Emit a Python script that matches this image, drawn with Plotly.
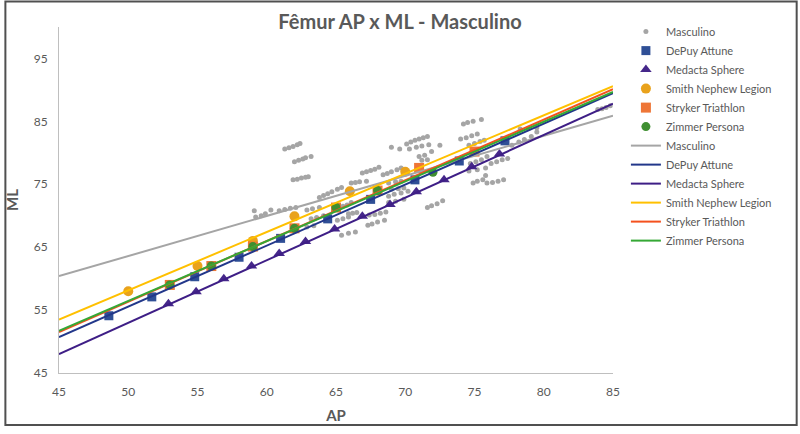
import plotly.graph_objects as go

# ---------------- data ----------------
ap_ticks = [45, 50, 55, 60, 65, 70, 75, 80, 85]
ml_ticks = [45, 55, 65, 75, 85, 95]

# Masculino (measured patients) - AP vs ML
masc_ap = [
    59.1, 60.3,
    59.2, 59.6, 59.9,
    60.9, 61.3, 61.7, 62.1,
    61.3, 61.6, 61.9, 62.2, 62.4,
    62.0, 62.3, 62.6, 62.8, 63.2,
    61.9, 62.2, 62.5, 62.8, 63.0,
    63.8, 64.1, 64.4, 64.7, 65.1, 65.4,
    63.2, 63.6, 64.1,
    62.9, 63.4,
    62.9, 63.3, 63.8,
    65.2, 65.5, 65.8, 66.1,
    65.9, 66.2, 66.5,
    66.1, 66.4, 66.7, 67.2,
    65.4, 65.9, 66.4,
    65.1, 65.5, 65.9,
    67.3, 67.6, 68.0, 68.5,
    67.4, 67.8, 68.2, 68.6,
    66.9, 67.2, 67.5, 67.8, 68.1,
    68.4, 68.7, 69.0, 69.4, 69.7,
    68.8, 69.3, 69.7,
    69.0, 69.5, 69.9,
    69.0, 69.6,
    70.1, 70.4, 70.7, 71.0, 71.3, 71.6, 70.3, 70.8, 71.2, 71.7,
    71.0, 71.4, 71.9,
    71.2, 71.6,
    72.5,
    68.8, 69.2, 69.7, 70.2,
    68.8, 69.3, 69.9,
    71.6, 71.9, 72.3, 72.7,
    74.2, 74.5, 74.9, 75.5,
    74.0, 74.4, 74.8, 75.2,
    74.6, 75.0, 75.4, 75.7,
    74.7, 75.1, 75.5, 75.9,
    74.6, 75.2, 75.8,
    74.9, 75.2, 75.6,
    75.8,
    75.9, 76.3, 76.7, 77.1,
    76.2, 76.6, 77.0, 77.4,
    77.7, 78.2, 78.6, 79.1, 79.5,
    78.3, 78.9, 79.5,
    83.9, 84.2, 84.5, 84.8,
]
masc_ml = [
    70.8, 70.9,
    69.8, 70.0, 70.3,
    70.8, 71.0, 71.2, 71.3,
    80.6, 80.8, 81.0, 81.3, 81.5,
    78.6, 78.8, 79.0, 79.2, 79.4,
    75.7, 75.8, 76.0, 76.1, 76.2,
    72.9, 73.2, 73.5, 73.8, 74.2, 74.5,
    69.5, 69.7, 70.0,
    68.2, 68.4,
    70.9, 71.1, 71.3,
    71.3, 71.5, 71.7, 72.1,
    70.3, 70.4, 70.5,
    75.2, 75.3, 75.4, 75.5,
    66.9, 67.2, 67.4,
    69.3, 69.5, 69.8,
    68.5, 68.7, 69.0, 69.3,
    70.1, 70.2, 70.4, 70.6,
    76.8, 77.0, 77.2, 77.4, 77.7,
    76.5, 76.7, 77.0, 77.3, 77.6,
    75.2, 75.4, 75.5,
    74.2, 74.3, 74.4,
    80.9, 80.6,
    81.4, 81.7, 82.0, 82.2, 82.4, 82.6, 80.6, 80.9, 81.1, 81.3,
    79.4, 79.6, 80.2,
    78.8, 78.9,
    81.2,
    73.1, 73.4, 73.6, 73.9,
    72.1, 72.3, 72.6,
    71.3, 71.6, 71.9, 72.4,
    84.6, 84.8, 85.0, 85.3,
    82.2, 82.4, 82.7, 83.0,
    81.2, 81.5, 81.8, 82.0,
    78.3, 78.6, 78.9, 79.4,
    77.1, 77.3, 77.6,
    75.2, 75.5, 75.7,
    76.4,
    75.2, 75.3, 75.5, 75.7,
    78.3, 78.6, 78.9, 79.1,
    81.2, 81.7, 82.1, 82.6, 83.3,
    83.8, 83.9, 84.0,
    86.9, 87.0, 87.2, 87.5,
]

# Prosthesis sizes
depuy_ap = [48.6, 51.7, 54.8, 58.0, 61.0, 64.4, 67.5, 70.7, 73.9, 77.2]
depuy_ml = [54.1, 57.1, 60.3, 63.4, 66.4, 69.5, 72.6, 75.7, 78.7, 81.9]

medacta_ap = [52.9, 54.9, 56.9, 58.9, 60.9, 62.8, 64.9, 66.9, 68.9, 70.8, 72.8, 74.8, 76.8]
medacta_ml = [56.0, 57.9, 60.0, 62.0, 64.0, 65.9, 67.9, 69.9, 71.8, 73.8, 75.7, 77.8, 79.8]

smith_ap = [50.0, 55.0, 59.0, 62.0, 66.0, 70.0]
smith_ml = [58.0, 62.0, 66.0, 69.9, 73.9, 77.0]

stryker_ap = [53.0, 56.0, 59.0, 62.0, 65.0, 68.0, 71.0, 75.0]
stryker_ml = [59.0, 62.0, 65.1, 68.0, 71.3, 74.0, 77.6, 80.2]

zimmer_ap = [53.0, 56.0, 59.0, 62.0, 65.0, 68.0, 72.0]
zimmer_ml = [59.0, 62.0, 65.1, 68.0, 71.3, 74.0, 76.9]

# Linear trend lines (ML at AP = 45 and AP = 85)
trend_ap = [45, 85]
trend_masc = [60.4, 85.9]
trend_depuy = [50.7, 89.5]
trend_medacta = [48.0, 87.8]
trend_smith = [53.5, 90.6]
trend_stryker = [51.5, 90.1]
trend_zimmer = [51.7, 89.7]

# ---------------- figure ----------------
FONT = "Lato"
TXT = "#595959"

fig = go.Figure()

marker_series = [
    ("Masculino", masc_ap, masc_ml, "circle", 5, "#A5A5A5"),
    ("DePuy Attune", depuy_ap, depuy_ml, "square", 9, "#2F4F96"),
    ("Medacta Sphere", medacta_ap, medacta_ml, "triangle-up", 10, "#45278A"),
    ("Smith Nephew Legion", smith_ap, smith_ml, "circle", 10, "#E9A21C"),
    ("Stryker Triathlon", stryker_ap, stryker_ml, "square", 10, "#EE7637"),
    ("Zimmer Persona", zimmer_ap, zimmer_ml, "circle", 9, "#3F8F31"),
]
for name, xs, ys, sym, size, col in marker_series:
    fig.add_trace(go.Scatter(
        x=xs, y=ys, mode="markers", name=name,
        marker=dict(symbol=sym, size=size, color=col, line=dict(width=0)),
    ))

line_series = [
    ("Masculino", trend_masc, "#A5A5A5"),
    ("DePuy Attune", trend_depuy, "#22378A"),
    ("Medacta Sphere", trend_medacta, "#3E1E86"),
    ("Smith Nephew Legion", trend_smith, "#FFC000"),
    ("Stryker Triathlon", trend_stryker, "#F4511E"),
    ("Zimmer Persona", trend_zimmer, "#35A835"),
]
for name, ys, col in line_series:
    fig.add_trace(go.Scatter(
        x=trend_ap, y=ys, mode="lines", name=name,
        line=dict(color=col, width=2),
    ))

W, H = 800, 434
ML, MR, MT, MB = 55, 187, 27, 55
pw, ph = W - ML - MR, H - MT - MB

fig.update_layout(
    width=W, height=H,
    margin=dict(l=ML, r=MR, t=MT, b=MB),
    paper_bgcolor="white", plot_bgcolor="white",
    font=dict(family=FONT, color=TXT),
    title=dict(text="<b>Fêmur AP x ML - Masculino</b>",
               font=dict(family=FONT, size=20, color=TXT),
               x=0.5, xref="container", xanchor="center",
               y=1 - 22 / H, yref="container", yanchor="middle"),
    xaxis=dict(range=[45, 85], tickvals=ap_ticks, showgrid=False, zeroline=False,
               showline=True, linecolor="#BFBFBF", linewidth=1, ticks="",
               ticklabelstandoff=8,
               tickfont=dict(family=FONT, size=12, color=TXT),
               title=dict(text="<b>AP</b>", font=dict(family=FONT, size=15, color=TXT),
                          standoff=12)),
    yaxis=dict(range=[45, 100], tickvals=ml_ticks, showgrid=False, zeroline=False,
               showline=True, linecolor="#BFBFBF", linewidth=1, ticks="",
               ticklabelstandoff=8,
               tickfont=dict(family=FONT, size=12, color=TXT),
               title=dict(text="<b>ML</b>", font=dict(family=FONT, size=15, color=TXT),
                          standoff=11)),
    legend=dict(x=(626 - ML) / pw, xanchor="left", y=(H - MB - 138) / ph, yanchor="middle",
                font=dict(family=FONT, size=11, color=TXT), bgcolor="rgba(0,0,0,0)",
                tracegroupgap=0, itemwidth=30),
    showlegend=True,
)

# outer chart border
fig.add_shape(type="rect", xref="paper", yref="paper",
              x0=(1 - ML) / pw, x1=(W - 2 - ML) / pw,
              y0=-(MB - 2) / ph, y1=1 + (MT - 1) / ph,
              line=dict(color="#505050", width=2), fillcolor="rgba(0,0,0,0)", layer="above")

fig.write_html("out.html")
